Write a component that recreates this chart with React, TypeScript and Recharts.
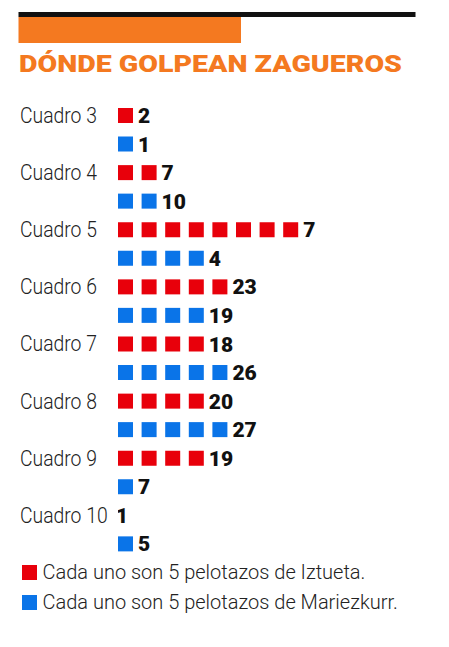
import React from 'react';
import { BarChart, Bar, XAxis, YAxis } from 'recharts';

const cuadros = ['Cuadro 3', 'Cuadro 4', 'Cuadro 5', 'Cuadro 6', 'Cuadro 7', 'Cuadro 8', 'Cuadro 9', 'Cuadro 10'];
// number of squares drawn (each square = 5 pelotazos)
const iztuetaSquares = [1, 2, 8, 5, 4, 4, 4, 0];
const mariezkurrSquares = [1, 2, 4, 4, 5, 5, 1, 1];
// numbers printed next to the squares
const iztuetaLabels = ['2', '7', '7', '23', '18', '20', '19', '1'];
const mariezkurrLabels = ['1', '10', '4', '19', '26', '27', '7', '5'];
const maxSquares = 10;

const titleText = 'DÓNDE GOLPEAN ZAGUEROS';
const legendIztueta = 'Cada uno son 5 pelotazos de Iztueta.';
const legendMariezkurr = 'Cada uno son 5 pelotazos de Mariezkurr.';

const data = cuadros.map((c, i) => ({
  cuadro: c,
  iztueta: iztuetaSquares[i],
  mariezkurr: mariezkurrSquares[i],
  iztuetaLabel: iztuetaLabels[i],
  mariezkurrLabel: mariezkurrLabels[i],
}));

const RED = '#E8000B';
const BLUE = '#0A74E8';
const ORANGE = '#F47920';
const SQ = 15;
const LABEL_GAP = 5;

function makeShape(key: string, labelKey: string, color: string) {
  return (props: any) => {
    const { x, y, width, height, payload } = props;
    const n = payload[key];
    const pitch = n > 0 ? width / n : 0;
    const squares = [];
    for (let i = 0; i < n; i++) {
      squares.push(
        <rect key={i} x={x + i * pitch} y={y} width={SQ} height={height} fill={color} />
      );
    }
    const lx = n > 0 ? x + (n - 1) * pitch + SQ + LABEL_GAP : x - 2;
    return (
      <g>
        {squares}
        <text
          x={lx}
          y={y + height / 2 + 7.5}
          fontFamily="Roboto"
          fontWeight={900}
          fontSize={21}
          fill="#111"
        >
          {payload[labelKey]}
        </text>
      </g>
    );
  };
}

const CategoryTick = (props: any) => {
  const { y, payload } = props;
  return (
    <text
      x={0}
      y={0}
      transform={`translate(20 ${y - 14.25 + 7.6}) scale(0.9 1)`}
      fontFamily="Roboto"
      fontWeight={300}
      fontSize={21.5}
      fill="#222"
    >
      {payload.value}
    </text>
  );
};

export default function App() {
  return (
    <div style={{ position: 'absolute', left: 0, top: 0, width: 449, height: 647, background: '#fff' }}>
      <svg width={449} height={647} style={{ position: 'absolute', left: 0, top: 0 }}>
        <rect x={18.5} y={12} width={397} height={5} fill="#111" />
        <rect x={18.5} y={17} width={222.5} height={26} fill={ORANGE} />
        <text
          x={19}
          y={71.7}
          fontFamily="Roboto"
          fontWeight={900}
          fontSize={24}
          fill={ORANGE}
          textLength={383}
          lengthAdjust="spacingAndGlyphs"
        >
          {titleText}
        </text>
        <rect x={22} y={565} width={15} height={15} fill={RED} />
        <text x={42.5} y={579.3} fontFamily="Roboto" fontWeight={300} fontSize={20} fill="#222">
          {legendIztueta}
        </text>
        <rect x={22} y={595} width={15} height={15} fill={BLUE} />
        <text x={42.5} y={609} fontFamily="Roboto" fontWeight={300} fontSize={20} fill="#222">
          {legendMariezkurr}
        </text>
      </svg>
      <div style={{ position: 'absolute', left: 0, top: 0 }}>
        <BarChart
          width={449}
          height={647}
          data={data}
          layout="vertical"
          margin={{ top: 101, right: 95, bottom: 89, left: 0 }}
          barSize={15}
          barGap={13.5}
        >
          <XAxis type="number" domain={[0, maxSquares]} hide allowDataOverflow />
          <YAxis
            type="category"
            dataKey="cuadro"
            width={118}
            axisLine={false}
            tickLine={false}
            tick={<CategoryTick />}
            interval={0}
          />
          <Bar
            dataKey="iztueta"
            fill={RED}
            isAnimationActive={false}
            shape={makeShape('iztueta', 'iztuetaLabel', RED)}
          />
          <Bar
            dataKey="mariezkurr"
            fill={BLUE}
            isAnimationActive={false}
            shape={makeShape('mariezkurr', 'mariezkurrLabel', BLUE)}
          />
        </BarChart>
      </div>
    </div>
  );
}
